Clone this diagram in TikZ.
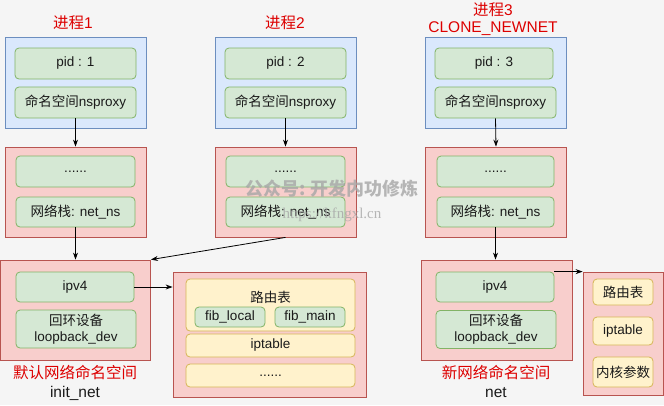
\documentclass[tikz,border=0pt]{standalone}
\usepackage{fontspec}
\setmainfont{Liberation Sans}
\newfontfamily\cjk{Noto Sans CJK SC}
\newfontfamily\wmserif{Liberation Serif}
\usepackage{xcolor}
\usetikzlibrary{arrows.meta}
\definecolor{bgcol}{HTML}{F5F5F5}
\definecolor{bluefill}{HTML}{DAE8FC}
\definecolor{blueline}{HTML}{6C8EBF}
\definecolor{greenfill}{HTML}{D5E8D4}
\definecolor{greenline}{HTML}{82B366}
\definecolor{redfill}{HTML}{F8CECC}
\definecolor{redline}{HTML}{B85450}
\definecolor{yellowfill}{HTML}{FFF2CC}
\definecolor{yellowline}{HTML}{D6B656}
\definecolor{titlered}{HTML}{DD0000}
\definecolor{inktext}{HTML}{1A1A1A}

\begin{document}
\begin{tikzpicture}[x=1pt,y=-1pt,
  every node/.style={inner sep=0pt,text=inktext,font=\fontsize{13.5}{16}\selectfont},
  proc/.style={draw=blueline,fill=bluefill,line width=0.8pt,minimum width=141pt,minimum height=91pt},
  stack/.style={draw=redline,fill=redfill,line width=0.8pt},
  item/.style={draw=greenline,fill=greenfill,line width=0.8pt,rounded corners=4pt,align=center},
  tbl/.style={draw=yellowline,fill=yellowfill,line width=0.8pt,rounded corners=4pt,align=center},
  title/.style={text=titlered,font=\fontsize{15.5}{18}\selectfont},
  subtitle/.style={font=\fontsize{15.5}{18}\selectfont},
  link/.style={-{Stealth[length=7pt,width=5pt]},line width=0.8pt,black}]
  % Canvas
  \fill[bgcol] (0,0) rectangle (664,405);
  \useasboundingbox (0,0) rectangle (664,405);
  % Process titles
  \node[title] (t1) at (73,23) {{\cjk 进程}1};
  \node[title] (t2) at (285,23) {{\cjk 进程}2};
  \node[title] (t3) at (493,10) {{\cjk 进程}3};
  \node[title] (t3b) at (493,29) {CLONE\_NEWNET};
  % Process boxes
  \node[proc] (p1) at (75.5,82.5) {};
  \node[proc] (p2) at (285.5,82.5) {};
  \node[proc] (p3) at (496,82.5) {};
  \node[item,minimum width=121pt,minimum height=31pt] (pid1) at (75.5,63.5) {pid : 1};
  \node[item,minimum width=121pt,minimum height=31pt] (nsp1) at (75.5,102.5) {{\cjk 命名空间}nsproxy};
  \node[item,minimum width=121pt,minimum height=31pt] (pid2) at (285.5,63.5) {pid : 2};
  \node[item,minimum width=121pt,minimum height=31pt] (nsp2) at (285.5,102.5) {{\cjk 命名空间}nsproxy};
  \node[item,minimum width=118pt,minimum height=31pt] (pid3) at (494,63.5) {pid : 3};
  \node[item,minimum width=121pt,minimum height=31pt] (nsp3) at (495.5,102.5) {{\cjk 命名空间}nsproxy};
  % Network stack boxes
  \node[stack,minimum width=141pt,minimum height=90pt] (s1) at (75.5,192) {};
  \node[stack,minimum width=141pt,minimum height=90pt] (s2) at (285.5,192) {};
  \node[stack,minimum width=141pt,minimum height=90pt] (s3) at (496,192) {};
  \node[item,minimum width=119pt,minimum height=31pt] (dots1) at (75.5,171.5) {......};
  \node[item,minimum width=119pt,minimum height=30pt] (ns1) at (75.5,212) {{\cjk 网络栈}: net\_ns};
  \node[item,minimum width=119pt,minimum height=31pt] (dots2) at (285.5,171.5) {......};
  \node[item,minimum width=119pt,minimum height=30pt] (ns2) at (285.5,212) {{\cjk 网络栈}: net\_ns};
  \node[item,minimum width=117pt,minimum height=31pt] (dots3) at (495.5,171.5) {......};
  \node[item,minimum width=117pt,minimum height=30pt] (ns3) at (495.5,212) {{\cjk 网络栈}: net\_ns};
  % Default network namespace
  \node[stack,minimum width=150pt,minimum height=100pt] (n1) at (75.5,310) {};
  \node[item,minimum width=118pt,minimum height=30pt] (ipv4a) at (75,287) {ipv4};
  \node[item,minimum width=120pt,minimum height=38pt] (loopa) at (76,329) {{\cjk 回环设备}\\loopback\_dev};
  \node[title,subtitle,text=titlered] (n1t) at (75,373) {\cjk 默认网络命名空间};
  \node[subtitle] (n1s) at (75,393) {init\_net};
  % New network namespace
  \node[stack,minimum width=151pt,minimum height=100pt] (n3) at (496.5,310) {};
  \node[item,minimum width=118pt,minimum height=30pt] (ipv4b) at (495,287) {ipv4};
  \node[item,minimum width=120pt,minimum height=38pt] (loopb) at (496,329.5) {{\cjk 回环设备}\\loopback\_dev};
  \node[title,subtitle,text=titlered] (n3t) at (496,373) {\cjk 新网络命名空间};
  \node[subtitle] (n3s) at (496,393) {net};
  % Tables of the default namespace
  \node[stack,minimum width=193pt,minimum height=125pt] (r1) at (269.5,334.5) {};
  \node[tbl,minimum width=169pt,minimum height=52pt] (rt1) at (270.5,305) {};
  \node (rt1t) at (270.5,297) {\cjk 路由表};
  \node[item,minimum width=70pt,minimum height=20pt] (fibl) at (230,317) {fib\_local};
  \node[item,minimum width=70pt,minimum height=20pt] (fibm) at (310,317) {fib\_main};
  \node[tbl,minimum width=169pt,minimum height=23pt] (ipt1) at (270.5,345.5) {iptable};
  \node[tbl,minimum width=169pt,minimum height=23pt] (more1) at (270.5,375.5) {......};
  % Tables of the new namespace
  \node[stack,minimum width=80pt,minimum height=123pt] (r3) at (623,333.5) {};
  \node[tbl,minimum width=60pt,minimum height=26pt] (rt3) at (623,292) {\cjk 路由表};
  \node[tbl,minimum width=60pt,minimum height=28pt] (ipt3) at (623,331) {iptable};
  \node[tbl,minimum width=60pt,minimum height=30pt] (kp3) at (623,372) {\cjk 内核参数};
  % Connectors
  \draw[link] (nsp1.south) -- (s1.north);
  \draw[link] (nsp2.south) -- (s2.north);
  \draw[link] (nsp3.south) -- (s3.north);
  \draw[link] (ns1.south) -- (ns1.south |- n1.north);
  \draw[link] (s2.south) -- (n1.north east);
  \draw[link] (ns3.south) -- (ns3.south |- n3.north);
  \draw[link] (ipv4a.east) -- (ipv4a.east -| r1.west);
  \draw[link] (ipv4b.north east) -- (r3.north west);
  % Watermark
  \node[text=black!35,opacity=0.8,font=\fontsize{18}{20}\selectfont\bfseries] (wm) at (332,189) {\cjk 公众号: 开发内功修炼};
  \node[text=black!35,opacity=0.8,font=\fontsize{15}{17}\selectfont\wmserif] (url) at (332,215) {https://kfngxl.cn};
\end{tikzpicture}
\end{document}
